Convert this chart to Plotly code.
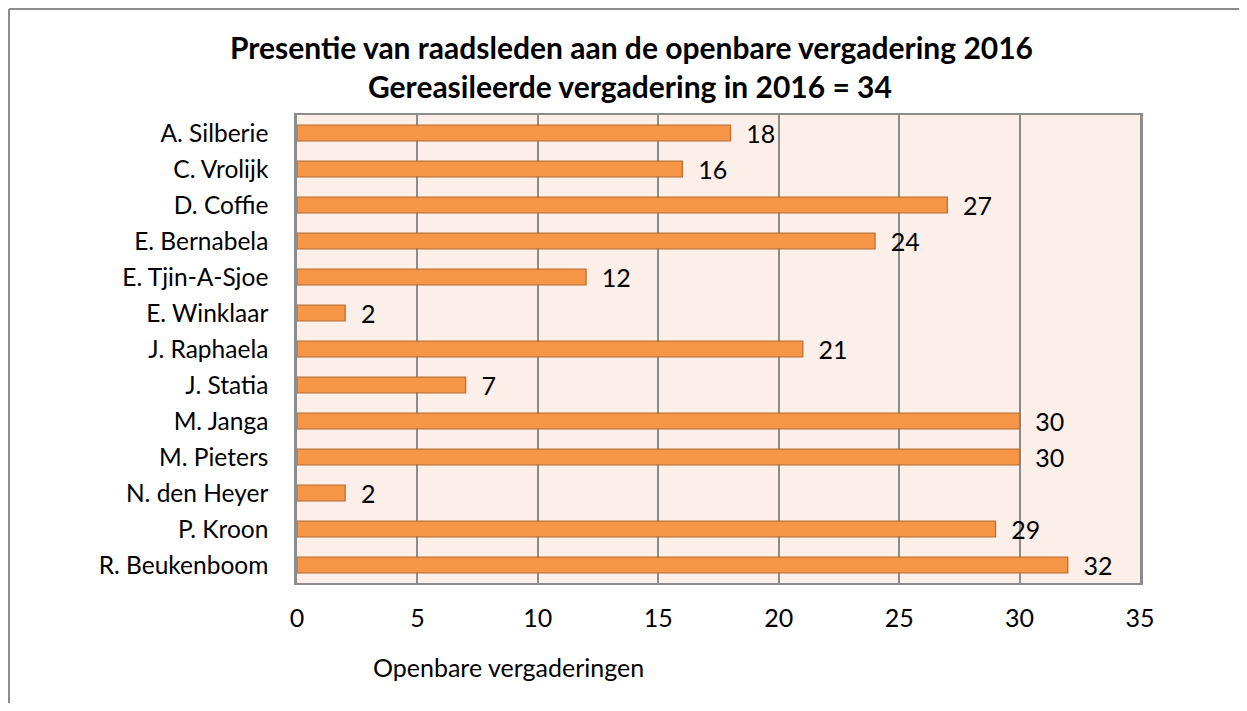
import plotly.graph_objects as go

names = ["A. Silberie", "C. Vrolijk", "D. Coffie", "E. Bernabela", "E. Tjin-A-Sjoe",
         "E. Winklaar", "J. Raphaela", "J. Statia", "M. Janga", "M. Pieters",
         "N. den Heyer", "P. Kroon", "R. Beukenboom"]
attendance = [18, 16, 27, 24, 12, 2, 21, 7, 30, 30, 2, 29, 32]
x_ticks = [0, 5, 10, 15, 20, 25, 30, 35]
title_lines = ["Presentie van raadsleden aan de openbare vergadering 2016",
               "Gereasileerde vergadering in 2016 = 34"]
x_title = "Openbare vergaderingen"

FONT = "Lato, Calibri, Carlito, sans-serif"
GRID = "#8C8C8C"

# page offset of plotly's html body (8px) is compensated in the margins
PL, PR, PT, PB = 297, 1140, 115, 583   # plot area in page pixels
W, H = 1231, 695


def px(xp):
    return (xp - PL) / (PR - PL)


def py(yp):
    return (PB - yp) / (PB - PT)


fig = go.Figure(go.Bar(
    y=names, x=attendance, orientation="h",
    marker=dict(color="#F79646", line=dict(color="#BE6F2E", width=1.3)),
    text=["\u00a0\u00a0" + str(v) for v in attendance], textposition="outside",
    constraintext="none",
    textfont=dict(size=25, color="black", family=FONT),
    cliponaxis=False,
))

fig.update_layout(
    width=W, height=H,
    margin=dict(l=PL - 8, r=W - (PR - 8), t=PT - 8, b=H - (PB - 8), pad=0),
    paper_bgcolor="white", plot_bgcolor="#FCEEE9",
    bargap=0.565,
    showlegend=False,
    font=dict(family=FONT, size=25, color="black"),
    xaxis=dict(range=[0, 35], tickvals=x_ticks, ticktext=[str(t) for t in x_ticks],
               showgrid=True, gridcolor=GRID, gridwidth=1.5,
               zeroline=False, showline=True, linecolor=GRID, linewidth=1.5,
               mirror=True, ticks="", ticklabelstandoff=12,
               tickfont=dict(size=25, family=FONT)),
    yaxis=dict(autorange="reversed", showgrid=False, zeroline=False,
               showline=True, linecolor=GRID, linewidth=2.5, mirror=True,
               ticks="", ticklabelstandoff=21, tickfont=dict(size=24.5, family=FONT)),
    annotations=[
        dict(text="<b>" + title_lines[0] + "</b>", xref="paper", yref="paper",
             x=px(631), y=py(47), xanchor="center", yanchor="middle", showarrow=False,
             font=dict(size=30, family=FONT, color="black")),
        dict(text="<b>" + title_lines[1] + "</b>", xref="paper", yref="paper",
             x=px(630), y=py(86), xanchor="center", yanchor="middle", showarrow=False,
             font=dict(size=30, family=FONT, color="black")),
        dict(text=x_title, xref="paper", yref="paper",
             x=px(508), y=py(667), xanchor="center", yanchor="middle",
             showarrow=False, font=dict(size=25, family=FONT, color="black")),
    ],
    shapes=[
        dict(type="line", xref="paper", yref="paper",
             x0=px(9), x1=px(1239), y0=py(9), y1=py(9),
             line=dict(color=GRID, width=2), layer="below"),
        dict(type="line", xref="paper", yref="paper",
             x0=px(9), x1=px(9), y0=py(9), y1=py(703),
             line=dict(color=GRID, width=2), layer="below"),
    ],
)

fig.write_html("out.html")
